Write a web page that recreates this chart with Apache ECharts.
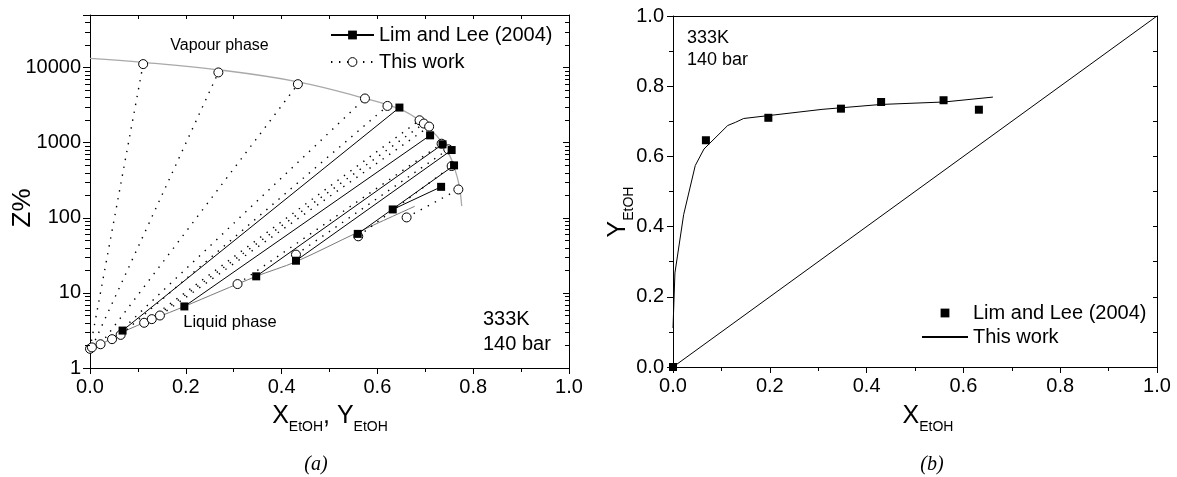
<!DOCTYPE html>
<html>
<head>
<meta charset="utf-8">
<title>EtOH / CO2 phase equilibrium, 333K, 140 bar</title>
<script src="https://cdn.jsdelivr.net/npm/echarts@6/dist/echarts.min.js"></script>
<style>
  html, body { margin: 0; padding: 0; background: #fff; }
  #chart { width: 1177px; height: 477px; }
</style>
</head>
<body>
<div id="chart"></div>
<script>
// ---- Tie lines, this work: ethanol fraction in liquid (x) and vapour (y), and Z% of each end
const thisWorkXLiq = [0.000, 0.004, 0.022, 0.046, 0.064, 0.113, 0.129, 0.146, 0.308, 0.430, 0.560, 0.661];
const thisWorkYVap = [0.111, 0.268, 0.434, 0.574, 0.621, 0.688, 0.697, 0.708, 0.734, 0.748, 0.755, 0.769];
const thisWorkZLiq = [1.80, 1.88, 2.07, 2.42, 2.76, 4.00, 4.47, 5.00, 13.1, 32.3, 56.6, 101];
const thisWorkZVap = [11100, 8600, 6000, 3870, 3080, 1985, 1795, 1635, 968, 815, 488, 238];

// ---- Tie lines, Lim and Lee (2004); the first entry is pure CO2 (no Z value)
const limXLiq = [0.000, 0.068, 0.197, 0.347, 0.430, 0.559, 0.632];
const limYVap = [0.000, 0.646, 0.710, 0.736, 0.755, 0.760, 0.733];
const limZLiq = [null, 3.15, 6.6, 16.6, 26.8, 61, 129];
const limZVap = [null, 2930, 1250, 950, 797, 498, 258];

// ---- Phase envelope in the Z% plane
const vapourEnvX = [0.000, 0.111, 0.268, 0.434, 0.574, 0.647, 0.689, 0.724, 0.748, 0.762, 0.771, 0.776];
const vapourEnvZ = [13200, 11700, 9330, 6460, 3890, 2790, 1950, 1230, 735, 437, 263, 143];
const liquidEnvX = [0.000, 0.068, 0.197, 0.347, 0.430, 0.559, 0.678];
const liquidEnvZ = [1.65, 3.0, 6.6, 16.6, 26, 64, 142];

// ---- Z% axis range and its minor ticks (the decades come from the axis itself)
const zMin = 1;
const zMax = 50000;
const logMinorTicks = [2, 3, 4, 5, 6, 7, 8, 9, 20, 30, 40, 50, 60, 70, 80, 90,
  200, 300, 400, 500, 600, 700, 800, 900, 2000, 3000, 4000, 5000, 6000, 7000, 8000, 9000,
  20000, 30000, 40000];

const legendText = {
  limA: 'Lim and Lee (2004)', thisA: 'This work',
  limB: 'Lim and Lee (2004)', thisB: 'This work'
};

const SANS = '"Liberation Sans", Arial, Helvetica, sans-serif';
const SERIF = '"Liberation Serif", "Times New Roman", serif';
const INK = '#000';

const chart = echarts.init(document.getElementById('chart'), null, { renderer: 'canvas' });

const lineAxis = { show: true, onZero: false, lineStyle: { color: INK, width: 1 } };
const tickStyle = { color: INK, width: 1 };
const labelStyle = { color: INK, fontSize: 20, fontFamily: SANS, margin: 9 };

// ---- Panel (a): tie lines on a log Z% axis
const seriesA = [];
seriesA.push({
  type: 'line', xAxisIndex: 0, yAxisIndex: 0, silent: true, z: 1,
  data: vapourEnvX.map((x, i) => [x, vapourEnvZ[i]]),
  smooth: 0.4, symbol: 'none', lineStyle: { color: '#a9a9a9', width: 1.3 }
});
seriesA.push({
  type: 'line', xAxisIndex: 0, yAxisIndex: 0, silent: true, z: 1,
  data: liquidEnvX.map((x, i) => [x, liquidEnvZ[i]]),
  smooth: 0.3, symbol: 'none', lineStyle: { color: '#7a7a7a', width: 1 }
});
thisWorkXLiq.forEach((x, i) => {
  seriesA.push({
    type: 'line', name: 'thisA', xAxisIndex: 0, yAxisIndex: 0, z: 3,
    data: [[x, thisWorkZLiq[i]], [thisWorkYVap[i], thisWorkZVap[i]]],
    symbol: 'circle', symbolSize: 9,
    itemStyle: { color: '#fff', borderColor: INK, borderWidth: 1 },
    lineStyle: { color: INK, width: 1.4, type: [1.4, 6.6] }
  });
});
limXLiq.forEach((x, i) => {
  if (limZLiq[i] == null) return;
  seriesA.push({
    type: 'line', name: 'limA', xAxisIndex: 0, yAxisIndex: 0, z: 4,
    data: [[x, limZLiq[i]], [limYVap[i], limZVap[i]]],
    symbol: 'rect', symbolSize: 8,
    itemStyle: { color: INK },
    lineStyle: { color: INK, width: 1, type: 'solid' }
  });
});
// Minor log ticks, drawn against a hidden linear axis that spans log10(Z%)
// over the same range: outward on the left frame, inward on the right frame.
seriesA.push({
  type: 'custom', xAxisIndex: 0, yAxisIndex: 4, silent: true, clip: false, z: 10,
  encode: { x: 0, y: 1 },
  data: logMinorTicks.map(v => [0, Math.log10(v)]),
  renderItem: (params, api) => {
    const e = api.value(1);
    const l = api.coord([0, e]);
    const r = api.coord([1, e]);
    const y = Math.round(l[1]) + 0.5;
    return {
      type: 'group',
      children: [
        { type: 'line', shape: { x1: l[0] - 5, y1: y, x2: l[0], y2: y }, style: { stroke: INK, lineWidth: 1 } },
        { type: 'line', shape: { x1: r[0] - 4, y1: y, x2: r[0], y2: y }, style: { stroke: INK, lineWidth: 1 } }
      ]
    };
  }
});

// ---- Panel (b): y-x diagram
const seriesB = [
  {
    type: 'line', xAxisIndex: 2, yAxisIndex: 2, silent: true, z: 1,
    data: [[0, 0], [1, 1]], symbol: 'none', lineStyle: { color: INK, width: 1 }
  },
  {
    type: 'line', name: 'thisB', xAxisIndex: 2, yAxisIndex: 2, z: 2,
    data: thisWorkXLiq.map((x, i) => [x, thisWorkYVap[i]]),
    symbol: 'none', lineStyle: { color: INK, width: 1 }
  },
  {
    type: 'line', name: 'limB', xAxisIndex: 2, yAxisIndex: 2, z: 3,
    data: limXLiq.map((x, i) => [x, limYVap[i]]),
    symbol: 'rect', symbolSize: 8,
    itemStyle: { color: INK },
    lineStyle: { color: INK, width: 0, opacity: 0 }
  }
];

const subRich = (mainSize, lineH, subLineH) => ({
  m: { fontSize: mainSize, lineHeight: lineH, fontFamily: SANS, fill: INK },
  s: { fontSize: 14, lineHeight: subLineH, verticalAlign: 'bottom', fontFamily: SANS, fill: INK }
});

function txt(x, y, text, size, extra) {
  return Object.assign({
    type: 'text', x: x, y: y, silent: true,
    style: {
      text: text, fontSize: size, fontFamily: SANS, fill: INK,
      align: 'center', verticalAlign: 'middle', textAlign: 'center', textVerticalAlign: 'middle'
    }
  }, extra || {});
}
function leftTxt(x, y, text, size) {
  const t = txt(x, y, text, size);
  t.style.align = 'left'; t.style.textAlign = 'left';
  return t;
}

// ---- Titles and annotations
const textEls = [
  // panel (a)
  txt(22.5, 208, 'Z%', 26, { rotation: Math.PI / 2 }),
  txt(330, 416, '{m|X}{s|EtOH}{m|, Y}{s|EtOH}', 25),
  txt(219.5, 46, 'Vapour phase', 16),
  txt(230, 322, 'Liquid phase', 16.5),
  leftTxt(483, 319, '333K', 20),
  leftTxt(483, 344, '140 bar', 20),
  // panel (b)
  txt(618, 212, '{m|Y}{s|EtOH}', 25, { rotation: Math.PI / 2 }),
  txt(928, 416, '{m|X}{s|EtOH}', 25),
  leftTxt(687, 38, '333K', 18),
  leftTxt(687, 60, '140 bar', 18),
  // captions
  txt(316, 465, '(a)', 20),
  txt(932, 465, '(b)', 20)
];
// rich-text subscripts for the axis titles, italic serif captions
textEls.forEach(g => {
  if (g.style.text.indexOf('{m|') === 0) {
    g.style.rich = g.rotation ? subRich(25, 36, 18) : subRich(25, 36, 8);
  }
  if (g.style.text === '(a)' || g.style.text === '(b)') {
    g.style.fontFamily = SERIF;
    g.style.fontStyle = 'italic';
  }
});

const option = {
  backgroundColor: '#fff',
  animation: false,
  grid: [
    { left: 90, top: 15, width: 479, height: 353, containLabel: false, outerBoundsMode: 'none' },
    { left: 673, top: 16, width: 484, height: 351, containLabel: false, outerBoundsMode: 'none' }
  ],
  xAxis: [
    { // (a) bottom
      type: 'value', gridIndex: 0, position: 'bottom', min: 0, max: 1, interval: 0.2,
      axisLine: lineAxis, splitLine: { show: false },
      axisTick: { show: true, inside: false, length: 6, lineStyle: tickStyle },
      minorTick: { show: true, splitNumber: 2, length: 4, lineStyle: tickStyle },
      axisLabel: Object.assign({ formatter: v => v.toFixed(1) }, labelStyle)
    },
    { // (a) top
      type: 'value', gridIndex: 0, position: 'top', min: 0, max: 1, interval: 0.1,
      axisLine: lineAxis, splitLine: { show: false },
      axisTick: { show: true, inside: true, length: 4, lineStyle: tickStyle },
      axisLabel: { show: false }
    },
    { // (b) bottom
      type: 'value', gridIndex: 1, position: 'bottom', min: 0, max: 1, interval: 0.2,
      axisLine: lineAxis, splitLine: { show: false },
      axisTick: { show: true, inside: false, length: 6, lineStyle: tickStyle },
      minorTick: { show: true, splitNumber: 2, length: 4, lineStyle: tickStyle },
      axisLabel: Object.assign({ formatter: v => v.toFixed(1) }, labelStyle)
    },
    { // (b) top
      type: 'value', gridIndex: 1, position: 'top', min: 0, max: 1,
      axisLine: lineAxis, splitLine: { show: false },
      axisTick: { show: false }, axisLabel: { show: false }
    }
  ],
  yAxis: [
    { // 0: (a) left, decades
      type: 'log', logBase: 10, gridIndex: 0, position: 'left', min: zMin, max: zMax,
      axisLine: lineAxis, splitLine: { show: false },
      axisTick: { show: true, inside: false, length: 7, lineStyle: tickStyle },
      axisLabel: Object.assign({
        formatter: v => {
          const r = Math.round(v);
          return [1, 10, 100, 1000, 10000].indexOf(r) >= 0 ? String(r) : '';
        }
      }, labelStyle)
    },
    { // 1: (a) right, decades
      type: 'log', logBase: 10, gridIndex: 0, position: 'right', min: zMin, max: zMax,
      axisLine: lineAxis, splitLine: { show: false },
      axisTick: { show: true, inside: true, length: 6, lineStyle: tickStyle },
      axisLabel: { show: false }
    },
    { // 2: (b) left
      type: 'value', gridIndex: 1, position: 'left', min: 0, max: 1, interval: 0.2,
      axisLine: lineAxis, splitLine: { show: false },
      axisTick: { show: true, inside: false, length: 6, lineStyle: tickStyle },
      minorTick: { show: true, splitNumber: 2, length: 4, lineStyle: tickStyle },
      axisLabel: Object.assign({ formatter: v => v.toFixed(1) }, labelStyle)
    },
    { // 3: (b) right
      type: 'value', gridIndex: 1, position: 'right', min: 0, max: 1, interval: 0.1,
      axisLine: lineAxis, splitLine: { show: false },
      axisTick: { show: true, inside: true, length: 4, lineStyle: tickStyle },
      axisLabel: { show: false }
    },
    { // 4: (a) hidden linear axis in log10(Z%), used to place the minor log ticks
      type: 'value', gridIndex: 0, position: 'left', show: false,
      min: Math.log10(zMin), max: Math.log10(zMax),
      axisLine: { show: false }, axisTick: { show: false },
      axisLabel: { show: false }, splitLine: { show: false }
    }
  ],
  legend: [
    {
      data: [{ name: 'limA' }, { name: 'thisA' }],
      orient: 'vertical', left: 330, top: 25, padding: 0,
      itemWidth: 43, itemHeight: 11, itemGap: 7, selectedMode: false,
      formatter: n => legendText[n],
      itemStyle: { borderWidth: 1 },
      textStyle: { fontSize: 20, fontFamily: SANS, color: INK }
    },
    {
      data: [
        { name: 'limB', lineStyle: { opacity: 0, width: 0 } },
        { name: 'thisB', itemStyle: { opacity: 0 } }
      ],
      orient: 'vertical', left: 921, top: 303, padding: 0,
      itemWidth: 46, itemHeight: 11, itemGap: 4, selectedMode: false,
      formatter: n => legendText[n],
      textStyle: { fontSize: 20, fontFamily: SANS, color: INK }
    }
  ],
  graphic: [{ elements: textEls }],
  series: seriesA.concat(seriesB)
};

chart.setOption(option);
</script>
</body>
</html>
